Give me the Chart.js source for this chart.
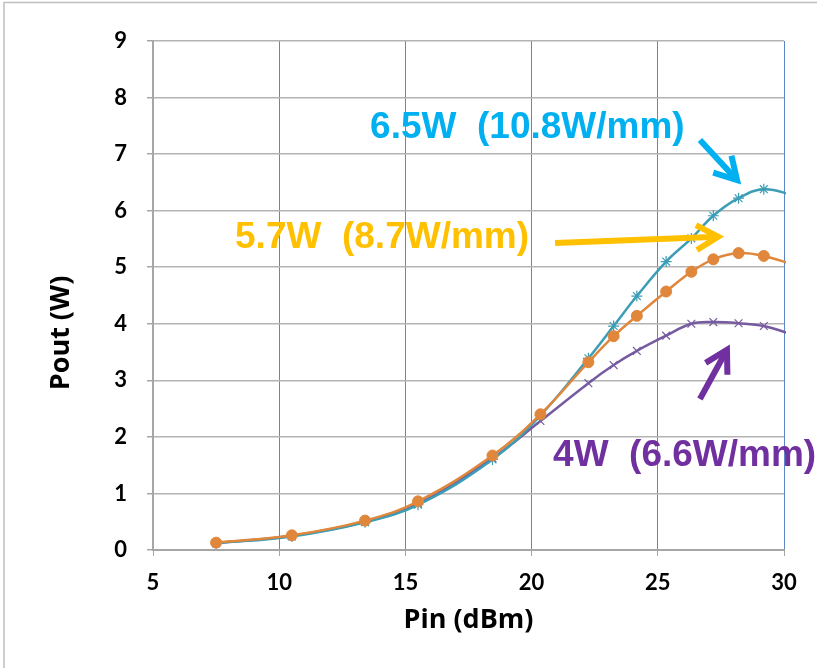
<!DOCTYPE html>
<html>
<head>
<meta charset="utf-8">
<title>Pout vs Pin</title>
<script src="https://cdn.jsdelivr.net/npm/chart.js@4.4.1/dist/chart.umd.min.js"></script>
<style>
  html, body { margin: 0; padding: 0; background: #fff; overflow: hidden; }
  #wrap { position: relative; width: 817px; height: 668px; }
</style>
</head>
<body>
<div id="wrap"><canvas id="poutChart" width="817" height="668"></canvas></div>
<script>
// input power sweep (dBm); the last point sits just past the axis and gets clipped
const pinDbm = [7.5, 10.5, 13.4, 15.5, 18.45, 20.35, 22.25, 23.25, 24.17, 25.33, 26.33, 27.2, 28.2, 29.2, 30.4];

// output power (W)
const pout65 = [0.12, 0.24, 0.49, 0.80, 1.60, 2.38, 3.39, 3.96, 4.49, 5.10, 5.51, 5.91, 6.22, 6.38, 6.27];
const pout57 = [0.13, 0.26, 0.52, 0.86, 1.67, 2.40, 3.32, 3.78, 4.14, 4.57, 4.92, 5.14, 5.25, 5.20, 5.04];
const pout40 = [0.12, 0.25, 0.50, 0.82, 1.62, 2.28, 2.95, 3.27, 3.52, 3.79, 4.00, 4.03, 4.01, 3.96, 3.80];

const xRange = [5, 30];
const yRange = [0, 9];

// callout labels, placed in data units
const callouts = [
  { text: '6.5W  (10.8W/mm)', color: '#00B0F0', at: [13.6, 7.28], from: [26.67, 7.25], to: [28.14, 6.54] },
  { text: '5.7W  (8.7W/mm)', color: '#FFC000', at: [8.25, 5.34], from: [20.93, 5.43], to: [27.39, 5.54] },
  { text: '4W  (6.6W/mm)', color: '#7030A0', at: [20.85, 1.49], from: [26.67, 2.67], to: [27.74, 3.54] }
];

const toPoints = (ys) => ys.map((y, i) => ({ x: pinDbm[i], y: y }));

const calloutPlugin = {
  id: 'callouts',
  beforeDraw(chart) {
    const ctx = chart.ctx;
    ctx.save();
    ctx.fillStyle = '#fff';
    ctx.fillRect(0, 0, chart.width, chart.height);
    // outer frame, only top and left visible in the crop
    ctx.strokeStyle = '#BFBFBF';
    ctx.lineWidth = 1.5;
    ctx.strokeRect(4, 2.5, 900, 900);
    ctx.restore();
  },
  afterDraw(chart) {
    const ctx = chart.ctx;
    const xs = chart.scales.x;
    const ys = chart.scales.y;

    ctx.save();
    // y axis title, sits a bit below the plot middle like the original
    ctx.translate(61, 333);
    ctx.rotate(-Math.PI / 2);
    ctx.font = 'bold 27px "Open Sans"';
    ctx.fillStyle = '#000';
    ctx.textAlign = 'center';
    ctx.textBaseline = 'middle';
    ctx.fillText('Pout (W)', 0, 0);
    ctx.restore();

    callouts.forEach(c => {
      ctx.save();
      ctx.font = 'bold 37px "Liberation Sans", Arial, sans-serif';
      ctx.fillStyle = c.color;
      ctx.textAlign = 'left';
      ctx.textBaseline = 'alphabetic';
      ctx.fillText(c.text, xs.getPixelForValue(c.at[0]), ys.getPixelForValue(c.at[1]));

      const x0 = xs.getPixelForValue(c.from[0]);
      const y0 = ys.getPixelForValue(c.from[1]);
      const x1 = xs.getPixelForValue(c.to[0]);
      const y1 = ys.getPixelForValue(c.to[1]);
      const ang = Math.atan2(y0 - y1, x0 - x1);
      const arm = 25;
      const spread = 0.52;

      ctx.strokeStyle = c.color;
      ctx.lineWidth = 6;
      ctx.beginPath();
      ctx.moveTo(x0, y0);
      ctx.lineTo(x1, y1);
      ctx.stroke();

      ctx.lineJoin = 'miter';
      ctx.beginPath();
      ctx.moveTo(x1 + arm * Math.cos(ang + spread), y1 + arm * Math.sin(ang + spread));
      ctx.lineTo(x1, y1);
      ctx.lineTo(x1 + arm * Math.cos(ang - spread), y1 + arm * Math.sin(ang - spread));
      ctx.stroke();
      ctx.restore();
    });
  }
};

const tickFont = { family: 'Lato', size: 22, weight: 'bold' };

new Chart(document.getElementById('poutChart'), {
  type: 'line',
  data: {
    datasets: [
      {
        label: '5.7W',
        data: toPoints(pout57),
        borderColor: '#E0873C',
        backgroundColor: '#E0873C',
        borderWidth: 2.5,
        pointStyle: 'circle',
        pointRadius: 5.5,
        pointBorderWidth: 1,
        tension: 0.4,
        clip: 2
      },
      {
        label: '6.5W',
        data: toPoints(pout65),
        borderColor: '#3C9DB6',
        backgroundColor: '#3C9DB6',
        borderWidth: 2.5,
        pointStyle: 'star',
        pointRadius: 5.5,
        pointBorderWidth: 1.2,
        tension: 0.4,
        clip: 2
      },
      {
        label: '4W',
        data: toPoints(pout40),
        borderColor: '#765BA0',
        backgroundColor: '#765BA0',
        borderWidth: 2.5,
        pointStyle: 'crossRot',
        pointRadius: 5.5,
        pointBorderWidth: 1.2,
        tension: 0.4,
        clip: 2
      }
    ]
  },
  options: {
    responsive: false,
    animation: false,
    devicePixelRatio: 1,
    layout: { padding: { left: 0, top: 41, right: 33, bottom: 0 } },
    plugins: {
      legend: { display: false },
      tooltip: { enabled: false }
    },
    scales: {
      x: {
        type: 'linear',
        min: xRange[0],
        max: xRange[1],
        afterFit: (scale) => { scale.height = 118; },
        ticks: { stepSize: 5, color: '#000', font: tickFont, padding: 14, maxRotation: 0 },
        grid: { color: '#5B87C7', lineWidth: 1, tickColor: '#A6A6A6', tickLength: 6 },
        border: { color: '#A6A6A6', width: 2 },
        title: {
          display: true,
          text: 'Pin (dBm)',
          color: '#000',
          font: { family: 'Open Sans', size: 27, weight: 'bold' },
          padding: { top: 0, bottom: 31 }
        }
      },
      y: {
        type: 'linear',
        min: yRange[0],
        max: yRange[1],
        afterFit: (scale) => { scale.width = 153; },
        ticks: { stepSize: 1, color: '#000', font: tickFont, padding: 20 },
        grid: { color: '#B4B4B4', lineWidth: 1.5, tickColor: '#A6A6A6', tickLength: 6 },
        border: { color: '#A6A6A6', width: 2 }
      }
    }
  },
  plugins: [calloutPlugin]
});
</script>
</body>
</html>
